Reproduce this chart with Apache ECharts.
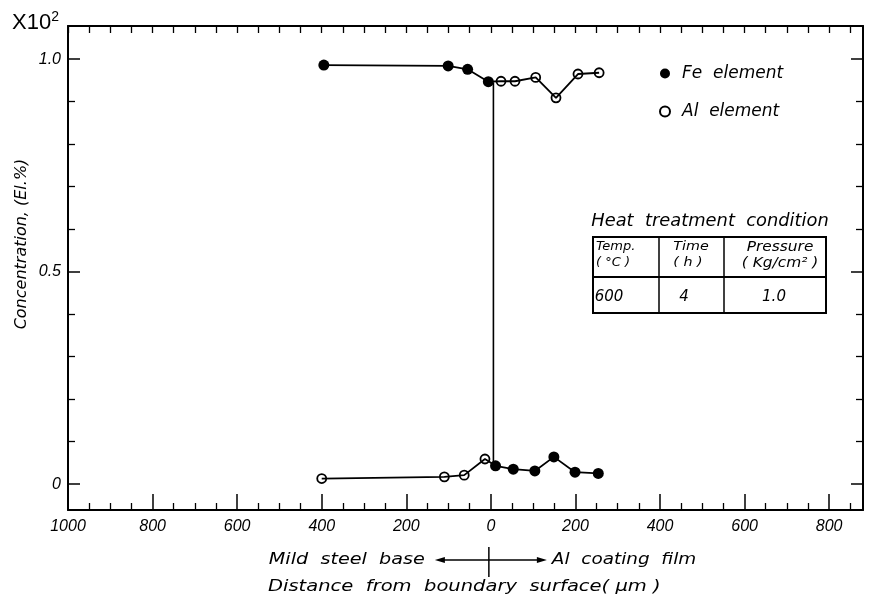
<!DOCTYPE html>
<html><head><meta charset="utf-8">
<script src="https://cdn.jsdelivr.net/npm/echarts@6/dist/echarts.min.js"></script>
<style>html,body{margin:0;padding:0;background:#fff}#c{width:869px;height:602px}</style>
</head><body><div id="c"></div>
<script>
// ---- data ----
const xTickValues = [-1000, -800, -600, -400, -200, 0, 200, 400, 600, 800];
const yTickValues = [0, 0.5, 1.0];
const feX = [-395, -101, -55, -6, 11, 53, 104, 149, 199, 254];
const feY = [0.986, 0.984, 0.976, 0.947, 0.043, 0.035, 0.031, 0.064, 0.028, 0.025];
const alX = [-400, -110, -63, -14, 24, 57, 106, 154, 206, 256];
const alY = [0.013, 0.017, 0.021, 0.059, 0.948, 0.948, 0.957, 0.909, 0.965, 0.968];
const boundaryX = [6, 6];
const boundaryY = [0.052, 0.945];
const legendNames = ['Fe  element', 'Al  element'];
const tableHead = [['Temp.', '( °C )'], ['Time', '( h )'], ['Pressure', '( Kg/cm² )']];
const tableRow = ['600', '4', '1.0'];

// ---- helpers ----
const FONT = 'Liberation Sans';
const TFONT = 'DejaVu Sans';
const X_MIN = -1000, X_MAX = 880, Y_MIN = -0.061, Y_MAX = 1.078;
const minorX = [], allX = [];
for (let v = -1000; v <= 850; v += 50) { allX.push(v); if (!xTickValues.includes(v)) minorX.push(v); }
const minorY = [];
for (let i = 0; i <= 10; i++) { const v = +(i / 10).toFixed(1); if (!yTickValues.includes(v)) minorY.push(v); }
const zip = (xs, ys) => xs.map((x, i) => [x, ys[i]]);
const topCurve = zip(feX.slice(0, 4), feY.slice(0, 4)).concat(zip(alX.slice(4), alY.slice(4)));
const bottomCurve = zip(alX.slice(0, 4), alY.slice(0, 4)).concat(zip(feX.slice(4), feY.slice(4)));
const txt = { color: '#000', fontStyle: 'italic', fontFamily: FONT };

function xAxisDef(opts) {
  return Object.assign({
    type: 'value', min: X_MIN, max: X_MAX, position: 'bottom',
    splitLine: { show: false },
    axisLine: { show: false, onZero: false, lineStyle: { color: '#000', width: 2 } },
    axisTick: { show: false }, axisLabel: { show: false }
  }, opts);
}
function yAxisDef(opts) {
  return Object.assign({
    type: 'value', min: Y_MIN, max: Y_MAX, position: 'left',
    splitLine: { show: false },
    axisLine: { show: false, onZero: false, lineStyle: { color: '#000', width: 2 } },
    axisTick: { show: false }, axisLabel: { show: false }
  }, opts);
}

const chart = echarts.init(document.getElementById('c'), null, { renderer: 'canvas' });
const option = {
  backgroundColor: '#fff',
  animation: false,
  grid: { left: 68, right: 6, top: 26, bottom: 92, containLabel: false },
  xAxis: [
    xAxisDef({
      axisLine: { show: true, onZero: false, lineStyle: { color: '#000', width: 2 } },
      axisTick: { show: true, inside: true, length: 16, customValues: xTickValues, lineStyle: { color: '#000', width: 1.5 } },
      axisLabel: { show: true, customValues: xTickValues, margin: 9, formatter: v => String(Math.abs(v)),
        ...txt, fontSize: 16 }
    }),
    xAxisDef({ axisTick: { show: true, inside: true, length: 7, customValues: minorX, lineStyle: { color: '#000', width: 1.3 } } }),
    xAxisDef({ position: 'top',
      axisLine: { show: true, onZero: false, lineStyle: { color: '#000', width: 2 } },
      axisTick: { show: true, inside: true, length: 7, customValues: allX, lineStyle: { color: '#000', width: 1.3 } } })
  ],
  yAxis: [
    yAxisDef({
      axisLine: { show: true, onZero: false, lineStyle: { color: '#000', width: 2 } },
      axisTick: { show: true, inside: true, length: 12, customValues: yTickValues, lineStyle: { color: '#000', width: 1.5 } },
      axisLabel: { show: true, customValues: yTickValues, margin: 7, formatter: v => v === 0 ? '0' : v.toFixed(1),
        ...txt, fontSize: 16 }
    }),
    yAxisDef({ axisTick: { show: true, inside: true, length: 7, customValues: minorY, lineStyle: { color: '#000', width: 1.3 } } }),
    yAxisDef({ position: 'right',
      axisLine: { show: true, onZero: false, lineStyle: { color: '#000', width: 2 } },
      axisTick: { show: true, inside: true, length: 12, customValues: yTickValues, lineStyle: { color: '#000', width: 1.5 } } }),
    yAxisDef({ position: 'right',
      axisTick: { show: true, inside: true, length: 7, customValues: minorY, lineStyle: { color: '#000', width: 1.3 } } })
  ],
  legend: {
    data: legendNames, orient: 'vertical', left: 654, top: 60,
    itemWidth: 24, itemHeight: 10, itemGap: 21,
    textStyle: { color: '#000', fontStyle: 'italic', fontFamily: TFONT, fontSize: 17, lineHeight: 17 }
  },
  series: [
    { type: 'line', data: topCurve, symbol: 'none', silent: true,
      lineStyle: { color: '#000', width: 1.8 } },
    { type: 'line', data: bottomCurve, symbol: 'none', silent: true,
      lineStyle: { color: '#000', width: 1.8 } },
    { type: 'line', data: zip(boundaryX, boundaryY), symbol: 'none', silent: true,
      lineStyle: { color: '#000', width: 1.6 } },
    { name: legendNames[0], type: 'scatter', data: zip(feX, feY), symbol: 'circle', symbolSize: 11,
      itemStyle: { color: '#000', opacity: 1 } },
    { name: legendNames[1], type: 'scatter', data: zip(alX, alY), symbol: 'circle', symbolSize: 9,
      itemStyle: { color: '#fff', borderColor: '#000', borderWidth: 1.8, opacity: 1 } }
  ],
  graphic: []
};
chart.setOption(option);

// ---- annotations ----
const zeroPx = chart.convertToPixel({ xAxisIndex: 0 }, 0);
const L = '#000';
const g = [];
const T = (text, x, y, size, align, sx, extra) => Object.assign({ type: 'text', x: x, y: y, scaleX: sx || 1,
  style: { text: text, fill: '#000', font: 'italic ' + size + 'px ' + TFONT, align: align, verticalAlign: 'middle' } }, extra || {});
g.push({ type: 'text', left: 12, top: 10,
  style: { text: '{a|X10}{s|2}', rich: { a: { fontSize: 22, fontFamily: FONT, fill: '#000' }, s: { fontSize: 14, fontFamily: FONT, fill: '#000', verticalAlign: 'top', padding: [0,0,12,0] } } } });
g.push(T('Concentration, (El.%)', 22, 244, 16, 'center', 1, { rotation: Math.PI / 2 }));
// heat treatment table
const tX0 = 593, tX1 = 826, tY0 = 237, tYm = 277, tY1 = 313, c1 = 659, c2 = 724;
g.push(T('Heat  treatment  condition', 710, 222, 17, 'center', 1.05));
g.push({ type: 'rect', shape: { x: tX0, y: tY0, width: tX1 - tX0, height: tY1 - tY0 }, style: { fill: 'none', stroke: L, lineWidth: 2 } });
g.push({ type: 'line', shape: { x1: tX0, y1: tYm, x2: tX1, y2: tYm }, style: { stroke: L, lineWidth: 2 } });
g.push({ type: 'line', shape: { x1: c1, y1: tY0, x2: c1, y2: tY1 }, style: { stroke: L, lineWidth: 1.5 } });
g.push({ type: 'line', shape: { x1: c2, y1: tY0, x2: c2, y2: tY1 }, style: { stroke: L, lineWidth: 1.5 } });
g.push(T(tableHead[0][0], 596, 247, 13, 'left', 1));
g.push(T(tableHead[0][1], 596, 263, 13, 'left', 1));
g.push(T(tableHead[1][0], 691, 247, 13, 'center', 1.1));
g.push(T(tableHead[1][1], 688, 263, 13, 'center', 1.1));
g.push(T(tableHead[2][0], 780, 247, 14, 'center', 1.1));
g.push(T(tableHead[2][1], 780, 263, 14, 'center', 1.1));
const rowX = [609, 684, 774];
tableRow.forEach((t, i) => g.push(T(t, rowX[i], 297, 15, 'center', 1)));
// bottom annotation with arrows
const ay = 560;
g.push(T('Mild  steel  base', zeroPx - 66, ay, 16, 'right', 1.2));
g.push(T('Al  coating  film', zeroPx + 61, ay, 16, 'left', 1.15));
g.push({ type: 'line', shape: { x1: zeroPx - 50, y1: ay, x2: zeroPx + 50, y2: ay }, style: { stroke: L, lineWidth: 1.5 } });
g.push({ type: 'line', shape: { x1: zeroPx - 2, y1: 547, x2: zeroPx - 2, y2: 577 }, style: { stroke: L, lineWidth: 1.5 } });
g.push({ type: 'polygon', shape: { points: [[zeroPx - 56, ay], [zeroPx - 46, ay - 3], [zeroPx - 46, ay + 3]] }, style: { fill: L } });
g.push({ type: 'polygon', shape: { points: [[zeroPx + 56, ay], [zeroPx + 46, ay - 3], [zeroPx + 46, ay + 3]] }, style: { fill: L } });
g.push(T('Distance  from  boundary  surface( μm )', 268, 587, 16, 'left', 1.22));
chart.setOption({ graphic: g });
</script></body></html>
